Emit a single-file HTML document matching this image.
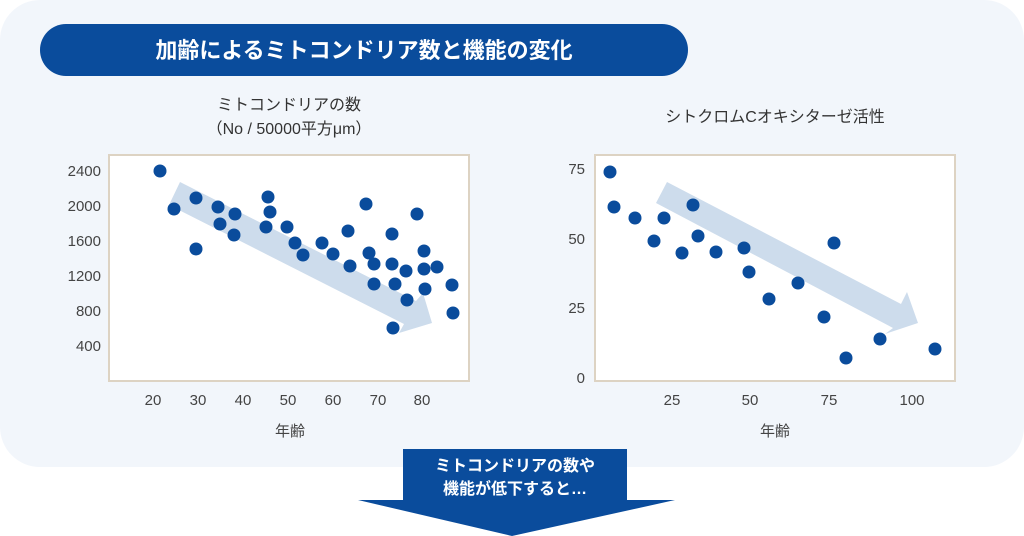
<!DOCTYPE html>
<html><head><meta charset="utf-8"><style>
body{margin:0;background:#fff;}
svg{display:block;font-family:"Liberation Sans","Noto Sans CJK JP",sans-serif;}
</style></head><body>
<svg width="1024" height="536" viewBox="0 0 1024 536">
<rect x="0" y="0" width="1024" height="467" rx="40" fill="#f2f6fb"/>
<rect x="40" y="24" width="648" height="52" rx="26" fill="#0a4c9c"/>
<text x="364" y="58" font-size="22" font-weight="bold" fill="#fff" text-anchor="middle">加齢によるミトコンドリア数と機能の変化</text>

<g fill="#333" font-size="16" text-anchor="middle">
<text x="289" y="110">ミトコンドリアの数</text>
<text x="289" y="134">（No / 50000平方μm）</text>
<text x="775" y="122">シトクロムCオキシターゼ活性</text>
</g>

<rect x="109" y="155" width="360" height="226" fill="#fff" stroke="#ddd3c3" stroke-width="2"/>
<rect x="595" y="155" width="360" height="226" fill="#fff" stroke="#ddd3c3" stroke-width="2"/>

<polygon fill="#cddcec" points="180,182 169,205 404,324 399,333 432,323 423,293 416,301"/>
<polygon fill="#cddcec" points="667,182 656,203 893,328 885,334 918,323 907,292 901,304"/>

<g fill="#0a4c9c">
<circle cx="160" cy="171" r="6.5"/><circle cx="174" cy="209" r="6.5"/><circle cx="196" cy="198" r="6.5"/><circle cx="196" cy="249" r="6.5"/><circle cx="218" cy="207" r="6.5"/><circle cx="220" cy="224" r="6.5"/><circle cx="235" cy="214" r="6.5"/><circle cx="234" cy="235" r="6.5"/><circle cx="268" cy="197" r="6.5"/><circle cx="270" cy="212" r="6.5"/><circle cx="266" cy="227" r="6.5"/><circle cx="287" cy="227" r="6.5"/><circle cx="295" cy="243" r="6.5"/><circle cx="303" cy="255" r="6.5"/><circle cx="322" cy="243" r="6.5"/><circle cx="333" cy="254" r="6.5"/><circle cx="348" cy="231" r="6.5"/><circle cx="350" cy="266" r="6.5"/><circle cx="366" cy="204" r="6.5"/><circle cx="369" cy="253" r="6.5"/><circle cx="374" cy="264" r="6.5"/><circle cx="374" cy="284" r="6.5"/><circle cx="392" cy="234" r="6.5"/><circle cx="392" cy="264" r="6.5"/><circle cx="395" cy="284" r="6.5"/><circle cx="393" cy="328" r="6.5"/><circle cx="406" cy="271" r="6.5"/><circle cx="407" cy="300" r="6.5"/><circle cx="417" cy="214" r="6.5"/><circle cx="424" cy="251" r="6.5"/><circle cx="424" cy="269" r="6.5"/><circle cx="425" cy="289" r="6.5"/><circle cx="437" cy="267" r="6.5"/><circle cx="452" cy="285" r="6.5"/><circle cx="453" cy="313" r="6.5"/>
<circle cx="610" cy="172" r="6.5"/><circle cx="614" cy="207" r="6.5"/><circle cx="635" cy="218" r="6.5"/><circle cx="654" cy="241" r="6.5"/><circle cx="664" cy="218" r="6.5"/><circle cx="682" cy="253" r="6.5"/><circle cx="693" cy="205" r="6.5"/><circle cx="698" cy="236" r="6.5"/><circle cx="716" cy="252" r="6.5"/><circle cx="744" cy="248" r="6.5"/><circle cx="749" cy="272" r="6.5"/><circle cx="769" cy="299" r="6.5"/><circle cx="798" cy="283" r="6.5"/><circle cx="824" cy="317" r="6.5"/><circle cx="834" cy="243" r="6.5"/><circle cx="846" cy="358" r="6.5"/><circle cx="880" cy="339" r="6.5"/><circle cx="935" cy="349" r="6.5"/>
</g>

<g fill="#444" font-size="15">
<g text-anchor="end">
<text x="101" y="176">2400</text><text x="101" y="211">2000</text><text x="101" y="246">1600</text><text x="101" y="281">1200</text><text x="101" y="316">800</text><text x="101" y="351">400</text>
<text x="585" y="174">75</text><text x="585" y="244">50</text><text x="585" y="313">25</text><text x="585" y="383">0</text>
</g>
<g text-anchor="middle">
<text x="153" y="405">20</text><text x="198" y="405">30</text><text x="243" y="405">40</text><text x="288" y="405">50</text><text x="333" y="405">60</text><text x="378" y="405">70</text><text x="422" y="405">80</text>
<text x="672" y="405">25</text><text x="750" y="405">50</text><text x="829" y="405">75</text><text x="912" y="405">100</text>
<text x="290" y="436">年齢</text><text x="775" y="436">年齢</text>
</g>
</g>

<rect x="403" y="449" width="224" height="52" fill="#0a4c9c"/>
<polygon points="358,500 675,500 512,536" fill="#0a4c9c"/>
<g fill="#fff" font-size="16" font-weight="bold" text-anchor="middle">
<text x="515" y="471">ミトコンドリアの数や</text>
<text x="515" y="494">機能が低下すると…</text>
</g>
</svg>
</body></html>
